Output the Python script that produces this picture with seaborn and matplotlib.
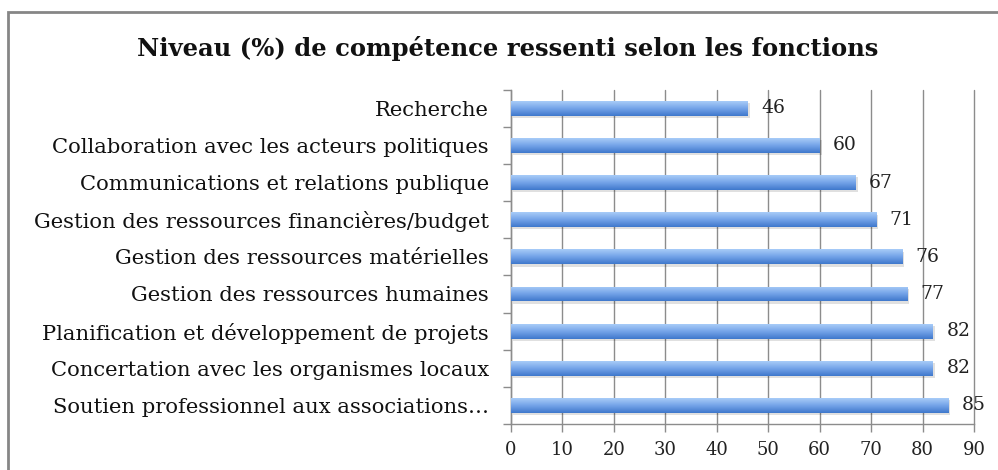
import matplotlib
matplotlib.use("Agg")
import matplotlib.pyplot as plt
import seaborn as sns
import numpy as np
import pandas as pd
from matplotlib.patches import Rectangle
from matplotlib.colors import LinearSegmentedColormap

categories = [
    "Recherche",
    "Collaboration avec les acteurs politiques",
    "Communications et relations publique",
    "Gestion des ressources financières/budget",
    "Gestion des ressources matérielles",
    "Gestion des ressources humaines",
    "Planification et développement de projets",
    "Concertation avec les organismes locaux",
    "Soutien professionnel aux associations…",
]
values = [46, 60, 67, 71, 76, 77, 82, 82, 85]
x_ticks = [0, 10, 20, 30, 40, 50, 60, 70, 80, 90]
title = "Niveau (%) de compétence ressenti selon les fonctions"

sns.set_theme(style="white")
plt.rcParams["font.family"] = ["DejaVu Serif", "Liberation Serif"]

df = pd.DataFrame({"cat": categories, "val": values})

fig = plt.figure(figsize=(9.98, 4.70), dpi=100)
ax = fig.add_axes([0.512, 0.098, 0.464, 0.711])

sns.barplot(data=df, y="cat", x="val", orient="h", color="#5b8fdc",
            width=0.4, ax=ax, zorder=3)

cmap = LinearSegmentedColormap.from_list("g", ["#a8ccf8", "#74a3e8", "#3f78cc"])
grad = np.linspace(0, 1, 100).reshape(-1, 1)
for p in ax.patches:
    x0, y0 = p.get_x(), p.get_y()
    w, h = p.get_width(), p.get_height()
    ax.add_patch(Rectangle((x0 + 0.4, y0 + 0.06), w, h, color="#000000",
                           alpha=0.12, lw=0, zorder=2))
    im = ax.imshow(grad, extent=(x0, x0 + w, y0 + h, y0), aspect="auto",
                   cmap=cmap, zorder=4, origin="upper")
    im.set_clip_path(p)
    p.set_edgecolor("none")

for i, v in enumerate(values):
    ax.text(v + 2.6, i, f"{v}", va="center", ha="left", fontsize=13.5,
            color="#222222", zorder=6)

ax.set_xlim(0, 90)
ax.set_ylim(len(categories) - 0.5, -0.5)
ax.set_xticks(x_ticks)
ax.set_xticklabels([str(t) for t in x_ticks], fontsize=13, color="#222222")
ax.set_yticks(range(len(categories)))
ax.set_yticklabels(categories, fontsize=15.2, color="#111111")
ax.set_xlabel("")
ax.set_ylabel("")

ax.xaxis.grid(True, color="#8c8c8c", lw=1.0, zorder=0)
for gl in ax.get_xgridlines():
    gl.set_clip_on(False)
ax.yaxis.grid(False)
ax.set_axisbelow(True)
for s in ["top", "right"]:
    ax.spines[s].set_visible(False)
for s in ["left", "bottom"]:
    ax.spines[s].set_color("#8c8c8c")
    ax.spines[s].set_linewidth(1.0)

ax.tick_params(axis="x", which="major", direction="out", length=6,
               color="#8c8c8c", width=1.0, pad=6, bottom=True)
ax.tick_params(axis="y", which="major", length=0, pad=16)
ax.set_yticks(np.arange(-0.5, len(categories), 1.0), minor=True)
ax.tick_params(axis="y", which="minor", direction="out", length=6,
               color="#8c8c8c", width=1.0, left=True)

fig.text(0.509, 0.897, title, ha="center", va="center", fontsize=17.5,
         fontweight="bold", color="#111111")

fig.patches.append(Rectangle((8 / 998, -0.05), 1.2, (470 - 11.5) / 470 + 0.05,
                             transform=fig.transFigure, fill=False,
                             edgecolor="#868686", lw=2.0, zorder=0))

fig.savefig("out.png", dpi=100)
